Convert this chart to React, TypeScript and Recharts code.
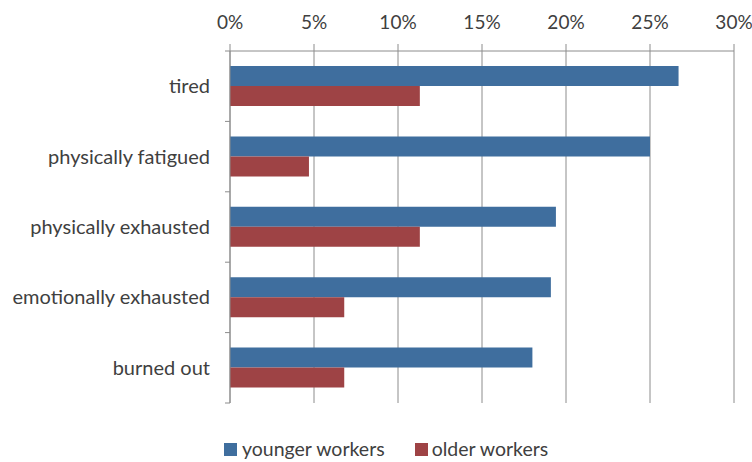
import React from "react";
import { BarChart, Bar, XAxis, YAxis, CartesianGrid, Legend } from "recharts";

const categories = ["tired", "physically fatigued", "physically exhausted", "emotionally exhausted", "burned out"];
const youngerWorkers = [26.7, 25.0, 19.4, 19.1, 18.0];
const olderWorkers = [11.3, 4.7, 11.3, 6.8, 6.8];
const xTicks = [0, 5, 10, 15, 20, 25, 30];

const data = categories.map((name, i) => ({ name, younger: youngerWorkers[i], older: olderWorkers[i] }));

const BLUE = "#3F6E9E";
const RED = "#9E4345";
const GRID = "#8C8C8C";
const TEXT = "#404040";
const FONT = "Lato, 'Open Sans', sans-serif";

const CatTick = (props: any) => {
  const { x, y, payload, index, visibleTicksCount } = props;
  const off = payload.offset || 0;
  const lx1 = x + 15;
  const lx2 = x + 20;
  return (
    <g>
      <text x={x} y={y} dy={7} textAnchor="end" fill={TEXT} fontSize={20} fontFamily={FONT}>
        {payload.value}
      </text>
      <line x1={lx1} x2={lx2} y1={y - off} y2={y - off} stroke={GRID} />
      {index === visibleTicksCount - 1 && <line x1={lx1} x2={lx2} y1={y + off} y2={y + off} stroke={GRID} />}
    </g>
  );
};

const LegendContent = () => (
  <div style={{ height: 54, position: "relative", fontFamily: FONT, fontSize: 19.5, color: TEXT }}>
    <div style={{ position: "absolute", left: 224, top: 34, display: "flex", alignItems: "center", lineHeight: "24px" }}>
      <span style={{ width: 13, height: 13, background: BLUE, display: "inline-block", marginRight: 5 }} />
      <span>younger workers</span>
      <span style={{ width: 13, height: 13, background: RED, display: "inline-block", marginLeft: 30, marginRight: 4 }} />
      <span>older workers</span>
    </div>
  </div>
);

export default function App() {
  return (
    <div style={{ position: "absolute", left: 0, top: 0, width: 752, height: 462, background: "#fff" }}>
      <BarChart
        width={752}
        height={462}
        data={data}
        layout="vertical"
        margin={{ top: 0, right: 18, bottom: 5, left: 0 }}
        barSize={20}
        barGap={0}
      >
        <CartesianGrid horizontal={false} vertical={true} stroke={GRID} strokeDasharray="0" />
        <XAxis
          type="number"
          orientation="top"
          domain={[0, 30]}
          ticks={xTicks}
          tickFormatter={(v: number) => `${v}%`}
          height={51}
          axisLine={{ stroke: GRID }}
          tickLine={{ stroke: GRID }}
          tickSize={7}
          tickMargin={15}
          tick={{ fill: TEXT, fontSize: 19, fontFamily: FONT }}
          interval={0}
        />
        <YAxis
          type="category"
          dataKey="name"
          width={230}
          axisLine={{ stroke: GRID }}
          tickLine={false}
          tickSize={6}
          tickMargin={14}
          tick={<CatTick />}
          interval={0}
        />
        <Legend verticalAlign="bottom" content={<LegendContent />} />
        <Bar dataKey="younger" name="younger workers" fill={BLUE} isAnimationActive={false} />
        <Bar dataKey="older" name="older workers" fill={RED} isAnimationActive={false} />
      </BarChart>
    </div>
  );
}
